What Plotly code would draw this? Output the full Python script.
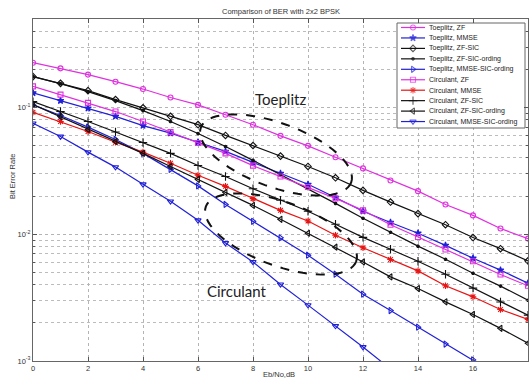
import math
import plotly.graph_objects as go

# ---------------- data ----------------
ebno_db = list(range(19))

toeplitz_zf = [0.226, 0.204, 0.182, 0.160, 0.140, 0.120, 0.105, 0.0877, 0.0731, 0.0598,
               0.0499, 0.0406, 0.0331, 0.0266, 0.0219, 0.0172, 0.0141, 0.0111, 0.00925]
toeplitz_mmse = [0.1306, 0.1135, 0.0988, 0.0853, 0.0721, 0.0628, 0.0533, 0.0451, 0.0369, 0.0302,
                 0.0248, 0.0195, 0.0152, 0.0124, 0.0102, 0.00818, 0.00647, 0.00521, 0.00411]
toeplitz_zf_sic = [0.1754, 0.1553, 0.136, 0.1156, 0.0995, 0.0853, 0.0734, 0.0603, 0.0502, 0.0414,
                   0.0343, 0.0279, 0.0222, 0.01795, 0.01455, 0.0119, 0.00942, 0.0077, 0.00617]
toeplitz_zf_sic_ord = [0.1754, 0.1545, 0.1337, 0.1135, 0.0946, 0.0776, 0.0624, 0.0493, 0.0383, 0.0296,
                       0.0230, 0.01754, 0.01337, 0.01038, 0.00806, 0.00636, 0.00493, 0.0039, 0.00302]
toeplitz_mmse_sic_ord = [0.105, 0.0865, 0.0701, 0.056, 0.0435, 0.0325, 0.0241, 0.0172, 0.01265, 0.00938,
                         0.00684, 0.00484, 0.00337, 0.0025, 0.00185, 0.00136, 0.00102, 0.00075]
circulant_zf = [0.147, 0.1265, 0.109, 0.093, 0.0776, 0.064, 0.0525, 0.0435, 0.0348, 0.0286,
                0.0236, 0.0192, 0.01545, 0.0119, 0.00953, 0.00759, 0.00612, 0.00482, 0.00392]
circulant_mmse = [0.0918, 0.0776, 0.0647, 0.0533, 0.0445, 0.0364, 0.0292, 0.0239, 0.0191, 0.01545,
                  0.01274, 0.00982, 0.00783, 0.00632, 0.00514, 0.00392, 0.00321, 0.00255, 0.00213]
circulant_zf_sic = [0.1114, 0.0931, 0.0776, 0.0641, 0.053, 0.0435, 0.0349, 0.0286, 0.0229, 0.01854,
                    0.0152, 0.012, 0.00946, 0.00762, 0.00612, 0.00484, 0.00376, 0.00292, 0.0023]
circulant_zf_sic_ord = [0.1057, 0.0849, 0.0672, 0.054, 0.0435, 0.0343, 0.0271, 0.0214, 0.0169, 0.01313,
                        0.01019, 0.00791, 0.00605, 0.00461, 0.00373, 0.00293, 0.00233, 0.00181, 0.00138]
circulant_mmse_sic_ord = [0.0751, 0.0591, 0.0445, 0.0339, 0.0248, 0.0182, 0.0129, 0.00853, 0.00605, 0.00402,
                          0.00276, 0.00189, 0.00129, 0.000865]

series_names = ["Toeplitz, ZF", "Toeplitz, MMSE", "Toeplitz, ZF-SIC", "Toeplitz, ZF-SIC-ording",
                "Toeplitz, MMSE-SIC-ording", "Circulant, ZF", "Circulant, MMSE", "Circulant, ZF-SIC",
                "Circulant, ZF-SIC-ording", "Circulant, MMSE-SIC-ording"]
series_values = [toeplitz_zf, toeplitz_mmse, toeplitz_zf_sic, toeplitz_zf_sic_ord, toeplitz_mmse_sic_ord,
                 circulant_zf, circulant_mmse, circulant_zf_sic, circulant_zf_sic_ord, circulant_mmse_sic_ord]

x_tick_vals = list(range(0, 19, 2))
y_major_vals = [1e-3, 1e-2, 1e-1]
y_major_text = ["10<sup>-3</sup>", "10<sup>-2</sup>", "10<sup>-1</sup>"]
y_minor_vals = [m * 10.0 ** e for e in (-3, -2, -1) for m in range(2, 10) if m * 10.0 ** e <= 0.5]

# ---------------- styles ----------------
MAG = "#e030e0"
BLU = "#2020d8"
RED = "#e81414"
BLK = "#111111"
styles = [
    dict(color=MAG, symbol="circle-open", size=5),
    dict(color=BLU, symbol="star", size=5),
    dict(color=BLK, symbol="diamond-open", size=5),
    dict(color=BLK, symbol="circle", size=2.5),
    dict(color=BLU, symbol="triangle-right-open", size=5.5),
    dict(color=MAG, symbol="square-open", size=5),
    dict(color=RED, symbol="asterisk-open", size=5.5),
    dict(color=BLK, symbol="cross-thin-open", size=6),
    dict(color=BLK, symbol="triangle-left-open", size=5.5),
    dict(color=BLU, symbol="triangle-down-open", size=5.5),
]

W, H = 531, 381
L, R, T, B = 33, 3, 19, 20
PW, PH = W - L - R, H - T - B
FONT = "Liberation Sans, Arial, sans-serif"


def px2paper(px, py):
    return (px - L) / PW, (H - B - py) / PH


fig = go.Figure()
for name, vals, st in zip(series_names, series_values, styles):
    fig.add_trace(go.Scatter(
        x=ebno_db[:len(vals)], y=vals, name=name, mode="lines+markers",
        line=dict(color=st["color"], width=1.2),
        marker=dict(symbol=st["symbol"], size=st["size"], color=st["color"],
                    line=dict(color=st["color"], width=1.1)),
        showlegend=False))

# ---------------- manual legend (drawn on an overlay axis spanning the plot area) ----------------
leg_x0, leg_x1, leg_y0, leg_y1 = 397, 525, 23, 128
lx0, lx1, ltxt = 401, 425, 427
row0, rowstep = 27.5, 10.45
bx0, by0 = px2paper(leg_x0, leg_y1)
bx1, by1 = px2paper(leg_x1, leg_y0)
fig.add_trace(go.Scatter(
    x=[bx0, bx1, bx1, bx0, bx0], y=[by0, by0, by1, by1, by0], xaxis="x2", yaxis="y2",
    mode="lines", fill="toself", fillcolor="white", line=dict(color="#666666", width=1),
    showlegend=False, hoverinfo="skip"))

annotations = []
for i, (name, st) in enumerate(zip(series_names, styles)):
    py = row0 + i * rowstep
    xa, ya = px2paper(lx0, py)
    xb, _ = px2paper(lx1, py)
    xt, _ = px2paper(ltxt, py)
    fig.add_trace(go.Scatter(
        x=[xa, (xa + xb) / 2, xb], y=[ya, ya, ya], xaxis="x2", yaxis="y2",
        mode="lines+markers", showlegend=False, hoverinfo="skip",
        line=dict(color=st["color"], width=1.2),
        marker=dict(symbol=st["symbol"], size=[0, st["size"], 0], color=st["color"],
                    line=dict(color=st["color"], width=1.1))))
    annotations.append(dict(x=xt, y=ya, xref="paper", yref="paper", text=name, showarrow=False,
                            xanchor="left", yanchor="middle",
                            font=dict(family=FONT, size=7, color="#222222")))


# ---------------- dashed ellipses ----------------
def ellipse_path(cx, cy, a, b, deg, n=72):
    th = math.radians(deg)
    pts = []
    for k in range(n):
        t = 2 * math.pi * k / n
        ex, ey = a * math.cos(t), b * math.sin(t)
        px = cx + ex * math.cos(th) - ey * math.sin(th)
        py = cy + ex * math.sin(th) + ey * math.cos(th)
        qx, qy = px2paper(px, py)
        pts.append(f"{qx:.5f},{qy:.5f}")
    return "M " + " L ".join(pts) + " Z"


shapes = []
for cx, cy in [(276, 155), (281, 234)]:
    shapes.append(dict(type="path", xref="paper", yref="paper", path=ellipse_path(cx, cy, 80, 32, 20),
                       line=dict(color="#111111", width=2, dash="dash"), layer="above"))

for txt, (px, py) in [("Toeplitz", (280, 99)), ("Circulant", (237, 291))]:
    qx, qy = px2paper(px, py)
    annotations.append(dict(x=qx, y=qy, xref="paper", yref="paper", text=txt, showarrow=False,
                            xanchor="center", yanchor="middle",
                            font=dict(family="Lato, Carlito, sans-serif", size=15, color="#222222")))

# axis titles and chart title
qx, qy = px2paper(12, 177)
annotations.append(dict(x=qx, y=qy, xref="paper", yref="paper", text="Bit Error Rate", textangle=-90,
                        showarrow=False, xanchor="center", yanchor="middle",
                        font=dict(family=FONT, size=7.5, color="#333333")))
qx, qy = px2paper(279, 374)
annotations.append(dict(x=qx, y=qy, xref="paper", yref="paper", text="Eb/No,dB",
                        showarrow=False, xanchor="center", yanchor="middle",
                        font=dict(family=FONT, size=7.5, color="#333333")))
qx, qy = px2paper(281, 11)
annotations.append(dict(x=qx, y=qy, xref="paper", yref="paper", text="Comparison of BER with 2x2 BPSK",
                        showarrow=False, xanchor="center", yanchor="middle",
                        font=dict(family=FONT, size=7.5, color="#333333")))

fig.update_layout(
    width=W, height=H, autosize=False,
    margin=dict(l=L, r=R, t=T, b=B, pad=0),
    paper_bgcolor="white", plot_bgcolor="white",
    shapes=shapes, annotations=annotations,
    xaxis=dict(range=[0, 18], tickvals=x_tick_vals, ticks="inside", ticklen=4, tickcolor="#555555",
               showline=True, linecolor="#666666", linewidth=1, mirror="ticks", zeroline=False,
               tickfont=dict(family=FONT, size=7.5, color="#333333"),
               showgrid=True, gridcolor="#b4b4b4", griddash="dot", gridwidth=1),
    yaxis=dict(type="log", range=[-3, math.log10(0.5)], tickvals=y_major_vals, ticktext=y_major_text,
               ticks="inside", ticklen=4, tickcolor="#555555",
               showline=True, linecolor="#666666", linewidth=1, mirror="ticks", zeroline=False,
               tickfont=dict(family=FONT, size=7.5, color="#333333"),
               showgrid=True, gridcolor="#b4b4b4", griddash="dot", gridwidth=1,
               minor=dict(tickvals=y_minor_vals, ticks="inside", ticklen=2, tickcolor="#555555",
                          showgrid=True, gridcolor="#bcbcbc", griddash="dot", gridwidth=1)),
    xaxis2=dict(overlaying="x", range=[0, 1], visible=False),
    yaxis2=dict(overlaying="y", range=[0, 1], visible=False),
)

fig.write_html("out.html", config={"displayModeBar": False},
               post_script="document.body.style.margin='0';document.body.style.overflow='hidden';")
